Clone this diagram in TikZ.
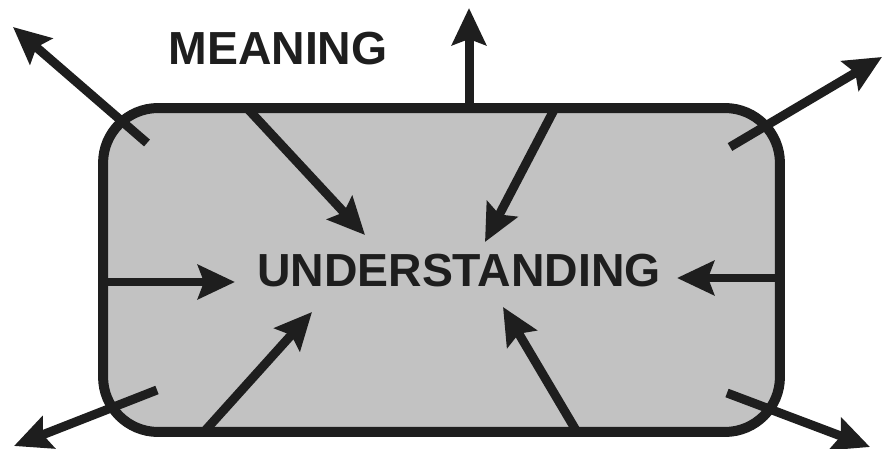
\documentclass[tikz,border=0pt]{standalone}
\usepackage{fontspec}
\setmainfont{Liberation Sans}
\usetikzlibrary{arrows.meta, positioning}
\definecolor{ink}{HTML}{1E1E1E}

\begin{document}
\begin{tikzpicture}[
		% pixel-like units, y pointing down
		x=0.02cm, y=-0.02cm,
		frame/.style = {draw=ink, fill=black!24, rectangle, line width=0.2cm, rounded corners=1.1cm, minimum width=13.54cm, minimum height=6.48cm},
		word/.style = {font=\fontsize{26.4}{30}\selectfont\bfseries, text=ink, inner sep=0pt},
		flow/.style = {->, draw=ink, line width=0.18cm},
		>={Stealth[length=0.74cm, width=0.68cm, inset=0.12cm]}
		]
		
		\useasboundingbox (0,0) rectangle (886,449);
		
		% --- BOX AND TEXTS ---
		\node [frame] (box) at (441.5,270) {};
		\node [word, anchor=base] (understanding) at (459,287) {UNDERSTANDING};
		\node [word, anchor=base] (meaning) at (278,65) {MEANING};
		
		% --- INWARD ENDS ---
		\coordinate (inA) at (247,108);  \coordinate (tipA) at (365,235);
		\coordinate (inB) at (555,108);  \coordinate (tipB) at (485,242);
		\coordinate (inC) at (103,282);  \coordinate (tipC) at (235,282);
		\coordinate (inD) at (780,278);  \coordinate (tipD) at (677,278);
		\coordinate (inE) at (203,433);  \coordinate (tipE) at (312,312);
		\coordinate (inF) at (577,432);  \coordinate (tipF) at (503,307);
		
		% --- OUTWARD ENDS ---
		\coordinate (outA) at (147,143); \coordinate (farA) at (13,27);
		\coordinate (outB) at (469,108); \coordinate (farB) at (469,8);
		\coordinate (outC) at (730,147); \coordinate (farC) at (882,57);
		\coordinate (outD) at (157,390); \coordinate (farD) at (14,446);
		\coordinate (outE) at (727,393); \coordinate (farE) at (870,447);
		
		% --- ARROWS ---
		\draw [flow] (inA) -- (tipA);
		\draw [flow] (inB) -- (tipB);
		\draw [flow] (inC) -- (tipC);
		\draw [flow] (inD) -- (tipD);
		\draw [flow] (inE) -- (tipE);
		\draw [flow] (inF) -- (tipF);
		
		\draw [flow] (outA) -- (farA);
		\draw [flow] (outB) -- (farB);
		\draw [flow] (outC) -- (farC);
		\draw [flow] (outD) -- (farD);
		\draw [flow] (outE) -- (farE);
		
	\end{tikzpicture}
\end{document}
